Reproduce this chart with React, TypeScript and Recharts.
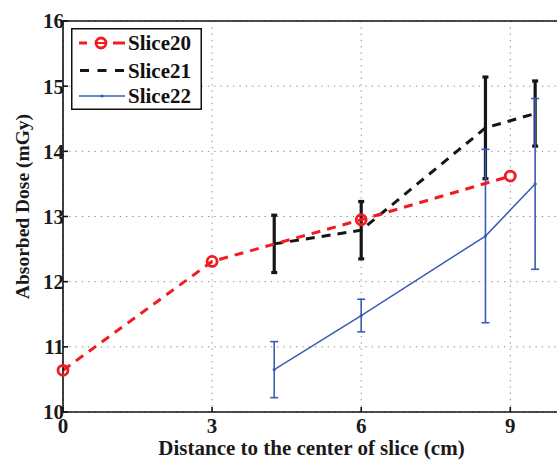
import {
  ComposedChart,
  Line,
  XAxis,
  YAxis,
  CartesianGrid,
  ErrorBar,
  Legend,
  Label,
  ReferenceLine,
} from "recharts";

const X_TICKS = [0, 3, 6, 9];
const Y_TICKS = [10, 11, 12, 13, 14, 15, 16];

const SLICE20_X = [0, 3, 6, 9];
const SLICE20_Y = [10.64, 12.31, 12.95, 13.62];

const SLICE21_X = [4.25, 6, 8.5, 9.5];
const SLICE21_Y = [12.58, 12.79, 14.36, 14.58];
const SLICE21_ERR = [0.44, 0.44, 0.78, 0.5];

const SLICE22_X = [4.25, 6, 8.5, 9.5];
const SLICE22_Y = [10.65, 11.48, 12.7, 13.5];
const SLICE22_ERR = [0.43, 0.25, 1.33, 1.31];

const COLORS = {
  s20: "#f01c22", // red
  s21: "#161616", // black
  s22: "#3a5cb4", // blue
};

const FONT = "'Liberation Serif', 'Times New Roman', serif";

const slice20 = SLICE20_X.map((x, i) => ({ x, y: SLICE20_Y[i] }));
const slice21 = SLICE21_X.map((x, i) => ({ x, y: SLICE21_Y[i], err: SLICE21_ERR[i] }));
const slice22 = SLICE22_X.map((x, i) => ({ x, y: SLICE22_Y[i], err: SLICE22_ERR[i] }));

function RedCircle(props: any) {
  const { cx, cy } = props;
  if (cx == null || cy == null) return null;
  return <circle cx={cx} cy={cy} r={5} fill="none" stroke={COLORS.s20} strokeWidth={2.8} />;
}

function BlueDot(props: any) {
  const { cx, cy } = props;
  if (cx == null || cy == null) return null;
  return <circle cx={cx} cy={cy} r={1.6} fill={COLORS.s22} />;
}

function LegendBox() {
  const rows = [15, 42.5, 68];
  const textStyle = { fontFamily: FONT, fontWeight: 700, fontSize: 21, fill: "#111" } as const;
  return (
    <svg width={131} height={82} style={{ display: "block" }}>
      <rect x={0.75} y={0.75} width={129.5} height={80.5} fill="#fff" stroke="#111" strokeWidth={1.5} />
      {/* Slice20 */}
      <line x1={8} x2={16} y1={rows[0]} y2={rows[0]} stroke={COLORS.s20} strokeWidth={3} />
      <circle cx={30} cy={rows[0]} r={5} fill="none" stroke={COLORS.s20} strokeWidth={2.8} />
      <line x1={24} x2={36} y1={rows[0]} y2={rows[0]} stroke={COLORS.s20} strokeWidth={2} />
      <line x1={42} x2={54} y1={rows[0]} y2={rows[0]} stroke={COLORS.s20} strokeWidth={3} />
      <text x={57} y={rows[0] + 7} style={textStyle}>Slice20</text>
      {/* Slice21 */}
      <line x1={9} x2={54} y1={rows[1]} y2={rows[1]} stroke={COLORS.s21} strokeWidth={3} strokeDasharray="9 8.5" />
      <text x={57} y={rows[1] + 7} style={textStyle}>Slice21</text>
      {/* Slice22 */}
      <line x1={8} x2={54} y1={rows[2]} y2={rows[2]} stroke={COLORS.s22} strokeWidth={1.5} />
      <circle cx={31} cy={rows[2]} r={1.6} fill={COLORS.s22} />
      <text x={57} y={rows[2] + 7} style={textStyle}>Slice22</text>
    </svg>
  );
}

export default function App() {
  const tickStyle = { fontFamily: FONT, fontWeight: 700, fontSize: 21, fill: "#1a1a1a" };
  return (
    <div
      style={{
        position: "absolute",
        left: 0,
        top: 0,
        width: 557,
        height: 460,
        overflow: "hidden",
        background: "#fff",
      }}
    >
      <ComposedChart width={565} height={460} margin={{ top: 21, right: 5, bottom: 0, left: 0 }}>
        <CartesianGrid stroke="#888" strokeDasharray="1.3 5" />
        <XAxis
          type="number"
          dataKey="x"
          domain={[0, 10]}
          ticks={X_TICKS}
          allowDuplicatedCategory={false}
          height={48}
          stroke="#111"
          strokeWidth={1.6}
          tickSize={-5}
          tickMargin={11}
          tick={tickStyle}
        >
          <Label
            value="Distance to the center of slice (cm)"
            position="insideBottom"
            offset={5}
            style={{ fontFamily: FONT, fontWeight: 700, fontSize: 21, fill: "#1a1a1a" }}
          />
        </XAxis>
        <YAxis
          type="number"
          domain={[10, 16]}
          ticks={Y_TICKS}
          width={63}
          stroke="#111"
          strokeWidth={1.6}
          tickSize={-5}
          tickMargin={4}
          tick={tickStyle}
        >
          <Label
            value="Absorbed Dose (mGy)"
            angle={-90}
            position="center"
            dx={-9}
            dy={-10}
            style={{ fontFamily: FONT, fontWeight: 700, fontSize: 19.5, fill: "#1a1a1a", textAnchor: "middle" }}
          />
        </YAxis>
        <ReferenceLine y={16} stroke="#111" strokeWidth={1.6} />
        <Legend
          layout="vertical"
          align="center"
          verticalAlign="middle"
          content={() => <LegendBox />}
          wrapperStyle={{ left: 71, top: 28, width: 131, height: 82 }}
        />
        <Line
          data={slice21}
          dataKey="y"
          name="Slice21"
          stroke={COLORS.s21}
          strokeWidth={3}
          strokeDasharray="9 7"
          dot={false}
          activeDot={false}
          isAnimationActive={false}
        >
          <ErrorBar dataKey="err" direction="y" width={3} stroke={COLORS.s21} strokeWidth={3.2} />
        </Line>
        <Line
          data={slice22}
          dataKey="y"
          name="Slice22"
          stroke={COLORS.s22}
          strokeWidth={1.5}
          dot={<BlueDot />}
          activeDot={false}
          isAnimationActive={false}
        >
          <ErrorBar dataKey="err" direction="y" width={4} stroke={COLORS.s22} strokeWidth={1.6} />
        </Line>
        <Line
          data={slice20}
          dataKey="y"
          name="Slice20"
          stroke={COLORS.s20}
          strokeWidth={3}
          strokeDasharray="9 7"
          dot={<RedCircle />}
          activeDot={false}
          isAnimationActive={false}
        />
      </ComposedChart>
    </div>
  );
}
